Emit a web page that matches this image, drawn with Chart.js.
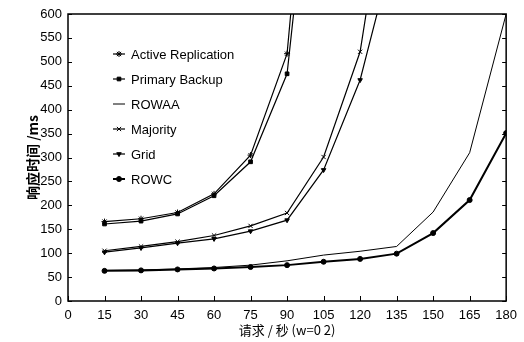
<!DOCTYPE html>
<html>
<head>
<meta charset="utf-8">
<script src="https://cdn.jsdelivr.net/npm/chart.js@4"></script>
<style>
  html, body { margin: 0; padding: 0; background: #fff; }
  #wrap { width: 524px; height: 342px; position: relative; }
</style>
</head>
<body>
<div id="wrap"><canvas id="respChart"></canvas></div>
<script>
// requests per second
const requests = [15, 30, 45, 60, 75, 90, 105, 120, 135, 150, 165, 180];
const xTicks = [0, 15, 30, 45, 60, 75, 90, 105, 120, 135, 150, 165, 180];

// response time (ms); values past 600 only give the direction of the line off the top
const activeReplication = [166, 172, 185, 224, 305, 517, 1350, null, null, null, null, null];
const primaryBackup     = [161, 167, 182, 220, 291, 475, 1180, null, null, null, null, null];
const rowaa             = [64, 65, 67, 70, 75, 84, 96, 104, 114, 186, 310, 600];
const majority          = [105, 114, 124, 137, 157, 184, 301, 521, 1005, null, null, null];
const grid              = [102, 111, 121, 130, 146, 169, 274, 462, 760, null, null, null];
const rowc              = [63, 64, 66, 68, 71, 75, 82, 88, 99, 142, 211, 351];

const seriesNames = ['Active Replication', 'Primary Backup', 'ROWAA', 'Majority', 'Grid', 'ROWC'];

const black = '#000';
const latin = '"Liberation Sans", Arial, sans-serif';
const cjk = '"Noto Sans CJK SC", "Liberation Sans", sans-serif';

function pts(vals) {
    return requests.map((x, i) => ({ x: x, y: vals[i] }));
}

function series(label, vals, style) {
    return Object.assign({
        label: label,
        data: pts(vals),
        borderColor: black,
        backgroundColor: black,
        pointBorderColor: black,
        pointBackgroundColor: black,
        borderWidth: 1.2,
        pointRadius: 3,
        pointBorderWidth: 1,
        tension: 0,
        spanGaps: false
    }, style);
}

const datasets = [
    series(seriesNames[0], activeReplication, { pointStyle: 'star', pointRadius: 3 }),
    series(seriesNames[1], primaryBackup, { pointStyle: 'rect', pointRadius: 2.6 }),
    series(seriesNames[2], rowaa, { pointStyle: 'line', pointRadius: 0, borderWidth: 1 }),
    series(seriesNames[3], majority, { pointStyle: 'crossRot', pointRadius: 3 }),
    series(seriesNames[4], grid, { pointStyle: 'triangle', pointRotation: 180, pointRadius: 2.6 }),
    series(seriesNames[5], rowc, { pointStyle: 'circle', pointRadius: 2.5, borderWidth: 2 })
];

// frame, inner tick marks and the legend inside the plot
const frameAndLegend = {
    id: 'frameAndLegend',
    afterDatasetsDraw(chart) {
        const ctx = chart.ctx;
        const a = chart.chartArea;
        const xs = chart.scales.x, ys = chart.scales.y;
        ctx.save();
        ctx.strokeStyle = black;
        ctx.lineWidth = 1.5;
        ctx.strokeRect(a.left, a.top, a.right - a.left, a.bottom - a.top);

        ctx.lineWidth = 1;
        ctx.beginPath();
        ys.ticks.forEach(t => {
            const y = Math.round(ys.getPixelForValue(t.value)) + 0.5;
            ctx.moveTo(a.left, y); ctx.lineTo(a.left + 4, y);
            ctx.moveTo(a.right, y); ctx.lineTo(a.right - 4, y);
        });
        xs.ticks.forEach(t => {
            const x = Math.round(xs.getPixelForValue(t.value)) + 0.5;
            ctx.moveTo(x, a.bottom); ctx.lineTo(x, a.bottom - 5);
        });
        ctx.stroke();

        // legend
        const lx = 113, lw = 12, tx = 131, ly0 = 54, step = 25;
        ctx.font = '13px ' + latin;
        ctx.textBaseline = 'middle';
        ctx.fillStyle = black;
        chart.data.datasets.forEach((ds, i) => {
            const y = ly0 + i * step;
            ctx.lineWidth = ds.borderWidth;
            ctx.beginPath();
            ctx.moveTo(lx, y); ctx.lineTo(lx + lw, y);
            ctx.stroke();
            if (ds.pointRadius > 0) {
                ctx.lineWidth = 1;
                Chart.helpers.drawPoint(ctx, {
                    pointStyle: ds.pointStyle,
                    radius: ds.pointRadius,
                    rotation: ds.pointRotation || 0,
                    borderWidth: 1
                }, lx + lw / 2, y);
            }
            ctx.fillText(ds.label, tx, y + 1);
        });
        ctx.restore();
    }
};

new Chart(document.getElementById('respChart').getContext('2d'), {
    type: 'line',
    data: { datasets: datasets },
    options: {
        responsive: true,
        maintainAspectRatio: false,
        animation: false,
        events: [],
        layout: { padding: { top: 14, right: 16, left: 0, bottom: 0 } },
        plugins: { legend: { display: false }, tooltip: { enabled: false } },
        scales: {
            x: {
                type: 'linear',
                min: 0,
                max: 180,
                afterBuildTicks: s => { s.ticks = xTicks.map(v => ({ value: v })); },
                afterFit: s => { s.height = 41; },
                grid: { display: false, drawTicks: false },
                border: { display: false },
                ticks: { color: black, padding: 7, maxRotation: 0, font: { family: latin, size: 13 } },
                title: {
                    display: true,
                    text: '请求 / 秒 (w=0 2)',
                    color: black,
                    font: { family: cjk, size: 13 },
                    padding: { top: 0, bottom: 4 }
                }
            },
            y: {
                min: 0,
                max: 600,
                afterFit: s => { s.width = 68; },
                grid: { display: false, drawTicks: false },
                border: { display: false },
                ticks: { stepSize: 50, color: black, padding: 6, font: { family: latin, size: 13 } },
                title: {
                    display: true,
                    text: '响应时间 /ms',
                    color: black,
                    font: { family: cjk, size: 14, weight: 'bold' },
                    padding: { top: 24, bottom: 0 }
                }
            }
        }
    },
    plugins: [frameAndLegend]
});
</script>
</body>
</html>
